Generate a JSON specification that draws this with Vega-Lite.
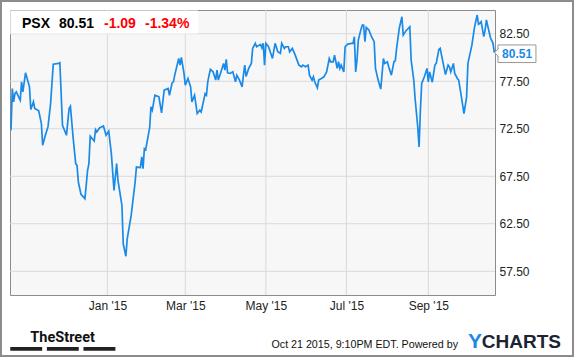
{
  "$schema": "https://vega.github.io/schema/vega-lite/v6.json",
  "width": 485,
  "height": 285,
  "autosize": {"type": "none"},
  "padding": {"left": 10, "top": 10, "right": 80, "bottom": 63},
  "background": "#ffffff",
  "config": {
    "font": "Liberation Sans",
    "view": {"fill": "#f7f7f7", "stroke": "#8c8c8c", "strokeWidth": 1},
    "axis": {"domain": false, "ticks": false, "labelFont": "Liberation Sans", "labelFontSize": 12, "labelColor": "#222222"}
  },
  "resolve": {"axis": {"x": "independent", "y": "independent"}},
  "datasets": {
    "xgrid": [{"date": "2015-01-01"}, {"date": "2015-03-01"}, {"date": "2015-05-01"}, {"date": "2015-07-01"}, {"date": "2015-09-01"}],
    "ygrid": [{"level": 57.5}, {"level": 62.5}, {"level": 67.5}, {"level": 72.5}, {"level": 77.5}, {"level": 82.5}],
    "prices": [
    {"date": "2014-10-20", "price": 72.34}, {"date": "2014-10-21", "price": 76.74}, {"date": "2014-10-22", "price": 75.33},
    {"date": "2014-10-23", "price": 76.2}, {"date": "2014-10-24", "price": 76.38}, {"date": "2014-10-27", "price": 75.5},
    {"date": "2014-10-28", "price": 77.44}, {"date": "2014-10-29", "price": 76.38}, {"date": "2014-10-31", "price": 78.39},
    {"date": "2014-11-03", "price": 76.91}, {"date": "2014-11-04", "price": 74.52}, {"date": "2014-11-06", "price": 75.33},
    {"date": "2014-11-07", "price": 74.63}, {"date": "2014-11-10", "price": 74.38}, {"date": "2014-11-12", "price": 73.05},
    {"date": "2014-11-13", "price": 70.76}, {"date": "2014-11-15", "price": 71.81}, {"date": "2014-11-17", "price": 72.69},
    {"date": "2014-11-19", "price": 75.16}, {"date": "2014-11-21", "price": 79.3}, {"date": "2014-11-25", "price": 79.38},
    {"date": "2014-11-26", "price": 79.44}, {"date": "2014-11-28", "price": 72.87}, {"date": "2014-12-01", "price": 71.81},
    {"date": "2014-12-03", "price": 74.63}, {"date": "2014-12-04", "price": 74.87}, {"date": "2014-12-06", "price": 71.64},
    {"date": "2014-12-08", "price": 68.83}, {"date": "2014-12-09", "price": 68.65}, {"date": "2014-12-10", "price": 66.89},
    {"date": "2014-12-12", "price": 65.59}, {"date": "2014-12-15", "price": 65.14}, {"date": "2014-12-17", "price": 68.12},
    {"date": "2014-12-18", "price": 68.83}, {"date": "2014-12-19", "price": 71.71}, {"date": "2014-12-22", "price": 71.21},
    {"date": "2014-12-23", "price": 72.41}, {"date": "2014-12-24", "price": 72.16}, {"date": "2014-12-26", "price": 72.58},
    {"date": "2014-12-29", "price": 72.8}, {"date": "2014-12-31", "price": 71.81}, {"date": "2015-01-02", "price": 72.24},
    {"date": "2015-01-04", "price": 69.88}, {"date": "2015-01-06", "price": 66.01}, {"date": "2015-01-08", "price": 68.83},
    {"date": "2015-01-09", "price": 67.07}, {"date": "2015-01-12", "price": 64.43}, {"date": "2015-01-13", "price": 60.39},
    {"date": "2015-01-15", "price": 59.08}, {"date": "2015-01-16", "price": 60.92}, {"date": "2015-01-19", "price": 63.38},
    {"date": "2015-01-22", "price": 66.89}, {"date": "2015-01-23", "price": 68.47}, {"date": "2015-01-26", "price": 68.41},
    {"date": "2015-01-27", "price": 69.53}, {"date": "2015-01-28", "price": 68.3}, {"date": "2015-01-29", "price": 70.41},
    {"date": "2015-01-30", "price": 70.3}, {"date": "2015-02-02", "price": 72.62}, {"date": "2015-02-03", "price": 74.8},
    {"date": "2015-02-04", "price": 74.45}, {"date": "2015-02-06", "price": 76.03}, {"date": "2015-02-09", "price": 75.86},
    {"date": "2015-02-11", "price": 74.17}, {"date": "2015-02-13", "price": 76.56}, {"date": "2015-02-16", "price": 76.74},
    {"date": "2015-02-17", "price": 76.03}, {"date": "2015-02-19", "price": 77.33}, {"date": "2015-02-20", "price": 77.44},
    {"date": "2015-02-21", "price": 78.14}, {"date": "2015-02-24", "price": 79.9}, {"date": "2015-02-25", "price": 79.2},
    {"date": "2015-02-26", "price": 80.0}, {"date": "2015-02-28", "price": 78.32}, {"date": "2015-03-01", "price": 77.09},
    {"date": "2015-03-03", "price": 77.79}, {"date": "2015-03-05", "price": 76.91}, {"date": "2015-03-06", "price": 75.33},
    {"date": "2015-03-08", "price": 76.03}, {"date": "2015-03-10", "price": 74.1}, {"date": "2015-03-12", "price": 74.45},
    {"date": "2015-03-13", "price": 74.27}, {"date": "2015-03-16", "price": 76.2}, {"date": "2015-03-17", "price": 76.03},
    {"date": "2015-03-18", "price": 77.44}, {"date": "2015-03-19", "price": 78.14}, {"date": "2015-03-20", "price": 78.74},
    {"date": "2015-03-22", "price": 78.49}, {"date": "2015-03-24", "price": 77.62}, {"date": "2015-03-25", "price": 78.67},
    {"date": "2015-03-26", "price": 77.62}, {"date": "2015-03-28", "price": 78.49}, {"date": "2015-03-30", "price": 79.38},
    {"date": "2015-03-31", "price": 78.67}, {"date": "2015-04-01", "price": 79.8}, {"date": "2015-04-02", "price": 78.39},
    {"date": "2015-04-04", "price": 78.32}, {"date": "2015-04-06", "price": 78.49}, {"date": "2015-04-08", "price": 77.44},
    {"date": "2015-04-09", "price": 78.14}, {"date": "2015-04-11", "price": 77.62}, {"date": "2015-04-13", "price": 76.91},
    {"date": "2015-04-14", "price": 78.14}, {"date": "2015-04-15", "price": 79.2}, {"date": "2015-04-16", "price": 78.0},
    {"date": "2015-04-18", "price": 78.85}, {"date": "2015-04-20", "price": 79.38}, {"date": "2015-04-21", "price": 80.96},
    {"date": "2015-04-23", "price": 81.49}, {"date": "2015-04-24", "price": 81.13}, {"date": "2015-04-27", "price": 81.38},
    {"date": "2015-04-28", "price": 81.02}, {"date": "2015-04-29", "price": 81.49}, {"date": "2015-04-30", "price": 79.2},
    {"date": "2015-05-01", "price": 81.49}, {"date": "2015-05-03", "price": 81.13}, {"date": "2015-05-06", "price": 79.9},
    {"date": "2015-05-08", "price": 81.49}, {"date": "2015-05-10", "price": 80.6}, {"date": "2015-05-12", "price": 80.43},
    {"date": "2015-05-13", "price": 81.49}, {"date": "2015-05-15", "price": 80.96}, {"date": "2015-05-16", "price": 81.13},
    {"date": "2015-05-18", "price": 81.13}, {"date": "2015-05-19", "price": 80.6}, {"date": "2015-05-21", "price": 80.96},
    {"date": "2015-05-23", "price": 80.33}, {"date": "2015-05-26", "price": 79.2}, {"date": "2015-05-28", "price": 79.02},
    {"date": "2015-05-29", "price": 79.2}, {"date": "2015-05-31", "price": 79.02}, {"date": "2015-06-02", "price": 79.2},
    {"date": "2015-06-03", "price": 78.14}, {"date": "2015-06-05", "price": 77.62}, {"date": "2015-06-06", "price": 77.97},
    {"date": "2015-06-07", "price": 77.44}, {"date": "2015-06-09", "price": 76.8}, {"date": "2015-06-10", "price": 77.62},
    {"date": "2015-06-12", "price": 77.79}, {"date": "2015-06-14", "price": 77.97}, {"date": "2015-06-16", "price": 78.49},
    {"date": "2015-06-18", "price": 79.9}, {"date": "2015-06-19", "price": 79.55}, {"date": "2015-06-21", "price": 79.55},
    {"date": "2015-06-22", "price": 80.25}, {"date": "2015-06-24", "price": 78.85}, {"date": "2015-06-25", "price": 79.55},
    {"date": "2015-06-26", "price": 78.85}, {"date": "2015-06-27", "price": 79.2}, {"date": "2015-06-29", "price": 78.49},
    {"date": "2015-06-30", "price": 81.13}, {"date": "2015-07-02", "price": 81.41}, {"date": "2015-07-05", "price": 81.49},
    {"date": "2015-07-06", "price": 81.49}, {"date": "2015-07-07", "price": 82.19}, {"date": "2015-07-08", "price": 78.49},
    {"date": "2015-07-09", "price": 79.73}, {"date": "2015-07-10", "price": 81.84}, {"date": "2015-07-12", "price": 82.96},
    {"date": "2015-07-13", "price": 83.42}, {"date": "2015-07-14", "price": 83.42}, {"date": "2015-07-15", "price": 81.66},
    {"date": "2015-07-16", "price": 83.17}, {"date": "2015-07-18", "price": 82.89}, {"date": "2015-07-20", "price": 82.19},
    {"date": "2015-07-22", "price": 81.66}, {"date": "2015-07-23", "price": 78.85}, {"date": "2015-07-25", "price": 77.62},
    {"date": "2015-07-27", "price": 76.67}, {"date": "2015-07-29", "price": 79.9}, {"date": "2015-07-30", "price": 79.38},
    {"date": "2015-08-01", "price": 79.55}, {"date": "2015-08-02", "price": 79.02}, {"date": "2015-08-04", "price": 78.14},
    {"date": "2015-08-06", "price": 79.55}, {"date": "2015-08-07", "price": 79.66}, {"date": "2015-08-08", "price": 80.96},
    {"date": "2015-08-10", "price": 83.07}, {"date": "2015-08-12", "price": 84.29}, {"date": "2015-08-13", "price": 82.36},
    {"date": "2015-08-15", "price": 82.8}, {"date": "2015-08-18", "price": 83.24}, {"date": "2015-08-19", "price": 79.73},
    {"date": "2015-08-21", "price": 77.62}, {"date": "2015-08-22", "price": 75.69}, {"date": "2015-08-24", "price": 72.69},
    {"date": "2015-08-25", "price": 70.58}, {"date": "2015-08-26", "price": 74.45}, {"date": "2015-08-27", "price": 77.27},
    {"date": "2015-08-29", "price": 77.97}, {"date": "2015-08-31", "price": 78.85}, {"date": "2015-09-01", "price": 77.44},
    {"date": "2015-09-02", "price": 78.49}, {"date": "2015-09-04", "price": 77.4}, {"date": "2015-09-06", "price": 79.2},
    {"date": "2015-09-07", "price": 79.38}, {"date": "2015-09-09", "price": 80.85}, {"date": "2015-09-10", "price": 80.96},
    {"date": "2015-09-11", "price": 80.25}, {"date": "2015-09-14", "price": 78.2}, {"date": "2015-09-16", "price": 79.2},
    {"date": "2015-09-17", "price": 79.02}, {"date": "2015-09-18", "price": 78.49}, {"date": "2015-09-20", "price": 79.38},
    {"date": "2015-09-21", "price": 78.32}, {"date": "2015-09-23", "price": 77.79}, {"date": "2015-09-24", "price": 77.62},
    {"date": "2015-09-26", "price": 75.9}, {"date": "2015-09-28", "price": 74.1}, {"date": "2015-09-30", "price": 75.86},
    {"date": "2015-10-01", "price": 79.38}, {"date": "2015-10-04", "price": 81.3}, {"date": "2015-10-06", "price": 83.2},
    {"date": "2015-10-08", "price": 84.47}, {"date": "2015-10-09", "price": 83.5}, {"date": "2015-10-10", "price": 83.6},
    {"date": "2015-10-11", "price": 83.77}, {"date": "2015-10-13", "price": 82.19}, {"date": "2015-10-14", "price": 82.89},
    {"date": "2015-10-15", "price": 83.95}, {"date": "2015-10-18", "price": 82.1}, {"date": "2015-10-20", "price": 81.49},
    {"date": "2015-10-21", "price": 80.51}
  ]},
  "data": {"name": "prices"},
  "layer": [
    {
      "data": {"name": "xgrid"},
      "mark": {"type": "rule", "color": "#d9d9d9", "strokeWidth": 1},
      "encoding": {
        "x": {"field": "date", "type": "temporal", "axis": null}
      }
    },
    {
      "data": {"name": "ygrid"},
      "mark": {"type": "rule", "color": "#d9d9d9", "strokeWidth": 1},
      "encoding": {
        "y": {"field": "level", "type": "quantitative", "axis": null}
      }
    },
    {
      "mark": {"type": "line", "color": "#1a8ae8", "strokeWidth": 1.7},
      "encoding": {
        "x": {
          "field": "date", "type": "temporal",
          "scale": {"domain": [{"year": 2014, "month": 10, "date": 19, "hours": 6}, {"year": 2015, "month": 10, "date": 21, "hours": 12}], "nice": false},
          "axis": {"title": null, "format": "%b '%y", "labelPadding": 5, "tickSize": 0, "grid": false,
            "values": [{"year": 2015, "month": 1, "date": 1}, {"year": 2015, "month": 3, "date": 1}, {"year": 2015, "month": 5, "date": 1}, {"year": 2015, "month": 7, "date": 1}, {"year": 2015, "month": 9, "date": 1}]}
        },
        "y": {
          "field": "price", "type": "quantitative",
          "scale": {"domain": [55, 85], "nice": false, "zero": false},
          "axis": {"title": null, "orient": "right", "format": ".2f", "labelPadding": 4, "tickSize": 0, "grid": false, "values": [57.5, 62.5, 67.5, 72.5, 77.5, 82.5]}
        }
      }
    },
    {
      "data": {"values": [{}]},
      "mark": {"type": "rect", "fillOpacity": 0, "stroke": "#8c8c8c", "strokeWidth": 2},
      "encoding": {
        "x": {"datum": {"year": 2014, "month": 10, "date": 12, "hours": 10, "minutes": 20}, "type": "temporal", "axis": null},
        "x2": {"datum": {"year": 2015, "month": 12, "date": 19, "hours": 13, "minutes": 40}},
        "y": {"datum": 85.947, "type": "quantitative", "axis": null},
        "y2": {"datum": 48.58}
      }
    },
    {
      "data": {"values": [{}]},
      "mark": {"type": "rect", "fill": "#ffffff", "strokeWidth": 0},
      "encoding": {
        "x": {"datum": {"year": 2014, "month": 10, "date": 19, "hours": 12}, "type": "temporal", "axis": null},
        "x2": {"datum": {"year": 2015, "month": 3, "date": 10, "hours": 14, "minutes": 40}},
        "y": {"datum": 84.95, "type": "quantitative", "axis": null},
        "y2": {"datum": 82.53}
      }
    },
    {
      "data": {"values": [{}]},
      "mark": {"type": "text", "text": "PSX", "align": "left", "baseline": "alphabetic", "font": "Liberation Sans", "fontWeight": "bold", "fontSize": 14, "color": "#000000"},
      "encoding": {
        "x": {"datum": {"year": 2014, "month": 10, "date": 28, "hours": 8}, "type": "temporal", "axis": null},
        "y": {"datum": 83.07, "type": "quantitative", "axis": null}
      }
    },
    {
      "data": {"values": [{}]},
      "mark": {"type": "text", "text": "80.51", "align": "left", "baseline": "alphabetic", "font": "Liberation Sans", "fontWeight": "bold", "fontSize": 14, "color": "#000000"},
      "encoding": {
        "x": {"datum": {"year": 2014, "month": 11, "date": 25, "hours": 8}, "type": "temporal", "axis": null},
        "y": {"datum": 83.07, "type": "quantitative", "axis": null}
      }
    },
    {
      "data": {"values": [{}]},
      "mark": {"type": "text", "text": "-1.09", "align": "left", "baseline": "alphabetic", "font": "Liberation Sans", "fontWeight": "bold", "fontSize": 14, "color": "#ff0000"},
      "encoding": {
        "x": {"datum": {"year": 2014, "month": 12, "date": 29, "hours": 10}, "type": "temporal", "axis": null},
        "y": {"datum": 83.07, "type": "quantitative", "axis": null}
      }
    },
    {
      "data": {"values": [{}]},
      "mark": {"type": "text", "text": "-1.34%", "align": "left", "baseline": "alphabetic", "font": "Liberation Sans", "fontWeight": "bold", "fontSize": 14, "color": "#ff0000"},
      "encoding": {
        "x": {"datum": {"year": 2015, "month": 1, "date": 29, "hours": 11}, "type": "temporal", "axis": null},
        "y": {"datum": 83.07, "type": "quantitative", "axis": null}
      }
    },
    {
      "data": {"values": [{}]},
      "mark": {"type": "rect", "fill": "#ffffff", "stroke": "#999999", "strokeWidth": 1},
      "encoding": {
        "x": {"datum": {"year": 2015, "month": 10, "date": 23, "hours": 18}, "type": "temporal", "axis": null},
        "x2": {"datum": {"year": 2015, "month": 11, "date": 21, "hours": 12}},
        "y": {"datum": 81.32, "type": "quantitative", "axis": null},
        "y2": {"datum": 79.47}
      }
    },
    {
      "data": {"values": [{}]},
      "mark": {"type": "point", "shape": "M 0.44 -1 L -0.44 0 L 0.44 1", "size": 81, "fill": "#ffffff", "stroke": "#999999", "strokeWidth": 1, "opacity": 1, "filled": false, "fillOpacity": 1},
      "encoding": {
        "x": {"datum": {"year": 2015, "month": 10, "date": 22, "hours": 20}, "type": "temporal", "axis": null},
        "y": {"datum": 80.51, "type": "quantitative", "axis": null}
      }
    },
    {
      "data": {"values": [{}]},
      "mark": {"type": "text", "text": "80.51", "align": "center", "baseline": "alphabetic", "font": "Liberation Sans", "fontWeight": "bold", "fontSize": 12, "color": "#1a8ae8"},
      "encoding": {
        "x": {"datum": {"year": 2015, "month": 11, "date": 7, "hours": 5}, "type": "temporal", "axis": null},
        "y": {"datum": 79.92, "type": "quantitative", "axis": null}
      }
    },
    {
      "data": {"values": [{}]},
      "mark": {"type": "text", "text": "TheStreet", "align": "center", "baseline": "alphabetic", "font": "Roboto", "fontWeight": "bold", "fontSize": 14.5, "color": "#111111"},
      "encoding": {
        "x": {"datum": {"year": 2014, "month": 11, "date": 28, "hours": 2}, "type": "temporal", "axis": null},
        "y": {"datum": 50.08, "type": "quantitative", "axis": null}
      }
    },
    {
      "data": {"values": [{}]},
      "mark": {"type": "rule", "color": "#222222", "strokeWidth": 3.7, "strokeDash": [31.9, 4.7], "strokeCap": "butt"},
      "encoding": {
        "x": {"datum": {"year": 2014, "month": 10, "date": 19, "hours": 11}, "type": "temporal", "axis": null},
        "x2": {"datum": {"year": 2015, "month": 1, "date": 7, "hours": 10, "minutes": 30}},
        "y": {"datum": 49.32, "type": "quantitative", "axis": null}
      }
    },
    {
      "data": {"values": [{}]},
      "mark": {"type": "text", "text": "Oct 21 2015, 9:10PM EDT. Powered by", "align": "right", "baseline": "alphabetic", "font": "Liberation Sans", "fontSize": 10.7, "color": "#111111"},
      "encoding": {
        "x": {"datum": {"year": 2015, "month": 9, "date": 23, "hours": 12}, "type": "temporal", "axis": null},
        "y": {"datum": 49.39, "type": "quantitative", "axis": null}
      }
    },
    {
      "data": {"values": [{}]},
      "mark": {"type": "text", "text": "Y", "align": "center", "baseline": "alphabetic", "font": "Liberation Sans", "fontWeight": "bold", "fontSize": 21, "color": "#1a8ae8"},
      "encoding": {
        "x": {"datum": {"year": 2015, "month": 10, "date": 6, "hours": 9}, "type": "temporal", "axis": null},
        "y": {"datum": 49.39, "type": "quantitative", "axis": null}
      }
    },
    {
      "data": {"values": [{}]},
      "mark": {"type": "text", "text": "CHARTS", "align": "left", "baseline": "alphabetic", "font": "Liberation Sans", "fontWeight": "bold", "fontSize": 19, "color": "#1c2433"},
      "encoding": {
        "x": {"datum": {"year": 2015, "month": 10, "date": 11, "hours": 12}, "type": "temporal", "axis": null},
        "y": {"datum": 49.39, "type": "quantitative", "axis": null}
      }
    }
  ]
}
